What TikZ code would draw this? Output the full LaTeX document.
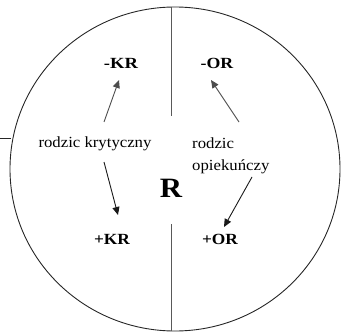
\documentclass[tikz,border=0pt]{standalone}
\usepackage{fontspec}
\setmainfont{Liberation Serif}
\usetikzlibrary{arrows.meta}
\begin{document}
\begin{tikzpicture}[x=1pt,y=-1pt,
  rim/.style={line width=0.9pt,draw=black!85},
  divider/.style={line width=0.9pt,draw=black!65},
  lbl/.style={font=\fontsize{15.5}{18}\selectfont\bfseries,inner sep=0pt,anchor=base},
  role/.style={font=\fontsize{15.5}{22}\selectfont,inner sep=0pt,anchor=base},
  uparrow/.style={line width=0.9pt,draw=black!70,-{Triangle[length=8pt,width=7pt,fill=black!70]}},
  downarrow/.style={line width=0.9pt,draw=black!90,-{Triangle[length=8pt,width=7pt,fill=black!90]}}]
\useasboundingbox (0,0) rectangle (342,334);
% circle and dividers
\draw[rim] (175,169) ellipse [x radius=165, y radius=162];
\coordinate (vtop) at (171,7);
\coordinate (vtopend) at (171,116);
\coordinate (vbot) at (171,224);
\coordinate (vbotend) at (171,331);
\draw[divider] (vtop) -- (vtopend);
\draw[divider] (vbot) -- (vbotend);
\coordinate (hl) at (0,138);
\coordinate (hr) at (11,138);
\draw[rim] (hl) -- (hr);
% labels
\node[lbl] (mkr) at (121,69) {\scalebox{1.2}[1]{-KR}};
\node[lbl] (mor) at (217,69) {\scalebox{1.15}[1]{-OR}};
\node[lbl] (pkr) at (112,244) {\scalebox{1.12}[1]{+KR}};
\node[lbl] (por) at (220,244) {\scalebox{1.12}[1]{+OR}};
\node[role] (rk) at (95,147) {\scalebox{1.08}[1]{rodzic krytyczny}};
\node[role,anchor=base west] (ro1) at (192,148) {\scalebox{1.08}[1]{rodzic}};
\node[role,anchor=base west] (ro2) at (192,170) {\scalebox{1.08}[1]{opiekuńczy}};
\node[font=\fontsize{28}{30}\selectfont\bfseries,inner sep=0pt,anchor=base] (r) at (171,197) {\scalebox{1.1}[1]{R}};
% arrows
\coordinate (a1s) at (104,122); \coordinate (a1e) at (119,80);
\coordinate (a2s) at (104,162); \coordinate (a2e) at (118,215);
\coordinate (a3s) at (239,122); \coordinate (a3e) at (211,80);
\coordinate (a4s) at (252,177); \coordinate (a4e) at (224,227);
\draw[uparrow] (a1s) -- (a1e);
\draw[downarrow] (a2s) -- (a2e);
\draw[uparrow] (a3s) -- (a3e);
\draw[downarrow] (a4s) -- (a4e);
\end{tikzpicture}
\end{document}
